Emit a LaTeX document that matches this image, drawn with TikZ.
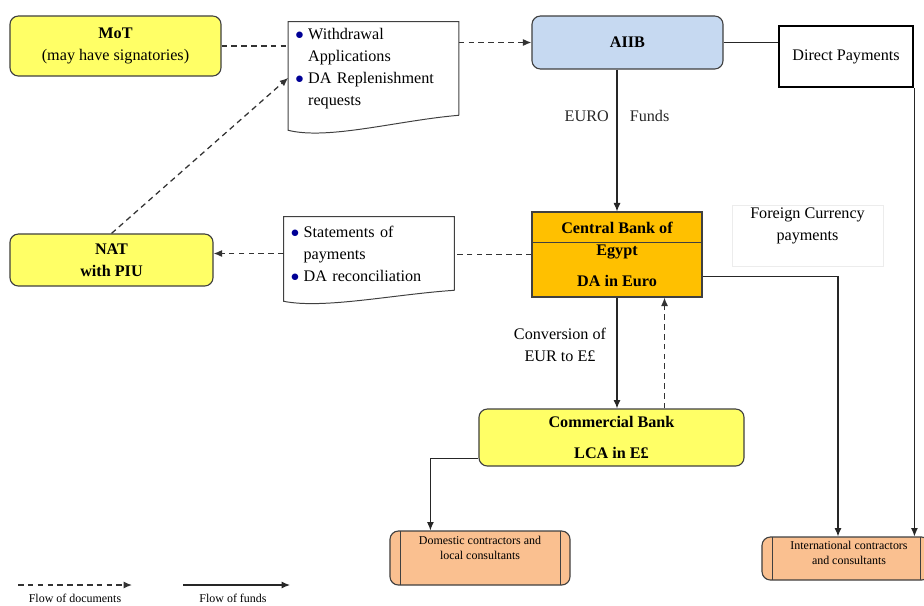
\documentclass[tikz,border=0pt]{standalone}
\usepackage{fontspec}
\setmainfont{Liberation Serif}
\usepackage{tikz}
\usetikzlibrary{calc,arrows.meta}

\definecolor{boxyellow}{RGB}{255,255,102}
\definecolor{aiibblue}{RGB}{198,217,241}
\definecolor{cbeorange}{RGB}{255,192,0}
\definecolor{peach}{RGB}{250,192,144}
\definecolor{bulblue}{RGB}{0,0,150}
\definecolor{edge}{RGB}{64,64,64}

\newcommand{\basefont}{\fontsize{11.5}{15.6}\selectfont}
\newcommand{\tinyfont}{\fontsize{8.5}{10.5}\selectfont}
\newcommand{\docitem}[1]{\hangindent=9pt\hangafter=1\noindent\makebox[9pt][l]{\textcolor{bulblue}{$\bullet$}}#1\par}

\tikzset{
  tip/.style={-{Latex[length=6pt,width=5pt]}},
  entity/.style={draw=edge, line width=0.8pt, rounded corners=6pt, align=center, font=\basefont\bfseries},
  paper/.style={text width=3.9cm, minimum width=4.25cm, align=left, inner xsep=4pt, font=\basefont},
  contractor/.style={draw=edge, fill=peach, line width=0.8pt, rounded corners=6pt,
    path picture={
      \draw[edge, line width=0.6pt] ($(path picture bounding box.north west)+(10,0)$) -- ($(path picture bounding box.south west)+(10,0)$);
      \draw[edge, line width=0.6pt] ($(path picture bounding box.north east)+(-10,0)$) -- ($(path picture bounding box.south east)+(-10,0)$);
    }},
  docflow/.style={dash pattern=on 4pt off 3pt, line width=0.9pt, black!80},
  fundflow/.style={tip, line width=0.8pt, black!85},
  plain/.style={font=\basefont, inner sep=2pt}
}

\begin{document}
\begin{tikzpicture}[x=0.025cm, y=-0.025cm]
  \useasboundingbox (0,0) rectangle (924,605);

  \node[entity, fill=boxyellow, minimum width=5.275cm, minimum height=1.5cm] (mot) at (115.5,46) {MoT\\\mdseries (may have signatories)};
  \node[entity, fill=aiibblue, minimum width=4.775cm, minimum height=1.325cm] (aiib) at (627.5,42.5) {AIIB};
  \node[draw, line width=2pt, minimum width=3.35cm, minimum height=1.525cm, font=\basefont] (dp) at (846,56.5) {Direct Payments};
  \node[entity, fill=boxyellow, minimum width=5.075cm, minimum height=1.3cm] (nat) at (111.5,260) {NAT\\with PIU};

  \node[paper, minimum height=2.325cm] (wa) at (373.5,68.5) {\docitem{Withdrawal\newline Applications}\docitem{DA Replenishment\newline requests}};
  \draw[edge, line width=0.7pt] (wa.south east) -- (wa.north east) -- (wa.north west) -- ($(wa.south west)+(0,15)$) .. controls +(40,10) and +(-60,5) .. (wa.south east);
  \node[paper, minimum height=1.825cm] (wb) at (369,253.5) {\docitem{Statements of\newline payments}\docitem{DA reconciliation}};
  \draw[edge, line width=0.7pt] (wb.south east) -- (wb.north east) -- (wb.north west) -- ($(wb.south west)+(0,11)$) .. controls +(40,8) and +(-60,4) .. (wb.south east);

  \node[draw=edge, line width=0.8pt, fill=cbeorange, minimum width=4.25cm, minimum height=2.125cm, align=center, font=\basefont\bfseries] (cbe) at (617,254.5) {Central Bank of\\Egypt\\[7pt]DA in Euro};
  \draw[edge, line width=0.8pt] ($(cbe.north west)+(0,31)$) -- ($(cbe.north east)+(0,31)$);

  \node[draw=gray!15, minimum width=3.775cm, minimum height=1.525cm] (fcp) at (807.5,235.5) {};
  \node[plain, anchor=north, align=center] (fcptext) at (fcp.north) {Foreign Currency\\payments};

  \node[entity, fill=boxyellow, minimum width=6.625cm, minimum height=1.425cm] (cb) at (611.5,437.5) {Commercial Bank\\[6pt]LCA in E£};
  \node[plain, align=center] (conv) at (560,345) {Conversion of\\EUR to E£};

  \node[contractor, minimum width=4.5cm, minimum height=1.35cm] (dom) at (480,558) {};
  \node[anchor=north, align=center, font=\tinyfont, inner sep=2pt] (domtext) at ($(dom.north)+(0,3)$) {Domestic contractors and\\local consultants};
  \node[contractor, minimum width=4.2cm, minimum height=1.075cm] (intl) at (846,558.5) {};
  \node[anchor=north, align=center, font=\tinyfont, inner sep=2pt] (intltext) at ($(intl.north)+(3,2)$) {International contractors\\and consultants};

  % flow of documents
  \draw[docflow] (mot.east) -- (mot.east -| wa.west);
  \draw[docflow, tip] (wa.east |- aiib.west) -- (aiib.west);
  \draw[docflow, tip] (nat.north) -- ($(wa.north west)!0.6!(wa.south west)$);
  \draw[docflow] (cbe.west) -- (cbe.west -| wb.east);
  \draw[docflow, tip] (wb.west) -- (wb.west -| nat.east);
  \coordinate (cbup) at ($(cb.north)+(53,0)$);
  \draw[docflow, tip] (cbup) -- (cbup |- cbe.south);

  % flow of funds
  \draw[fundflow] (aiib.south -| cbe.north) -- (cbe.north) node[plain, pos=0.33] (euro) {EURO\hspace{1.3em}Funds};
  \draw[line width=0.8pt, black!85] (aiib.east) -- (aiib.east -| dp.west);
  \draw[fundflow] (dp.south east) -- (dp.south east |- intl.north);
  \draw[fundflow] ($(cbe.south east)+(0,-21)$) -| ($(intl.north)+(-8,0)$);
  \draw[fundflow] (cbe.south) -- (cbe.south |- cb.north);
  \draw[fundflow] ($(cb.south west)+(0,-8)$) -| ($(dom.north west)+(41,0)$);

  % legend
  \coordinate (lda) at (18,585);
  \coordinate (ldb) at (132,585);
  \draw[docflow, tip] (lda) -- (ldb);
  \node[font=\tinyfont, inner sep=1pt] (ldoc) at (75,598) {Flow of documents};
  \coordinate (lfa) at (183,585);
  \coordinate (lfb) at (290,585);
  \draw[fundflow] (lfa) -- (lfb);
  \node[font=\tinyfont, inner sep=1pt] (lfund) at (233,598) {Flow of funds};
\end{tikzpicture}
\end{document}
